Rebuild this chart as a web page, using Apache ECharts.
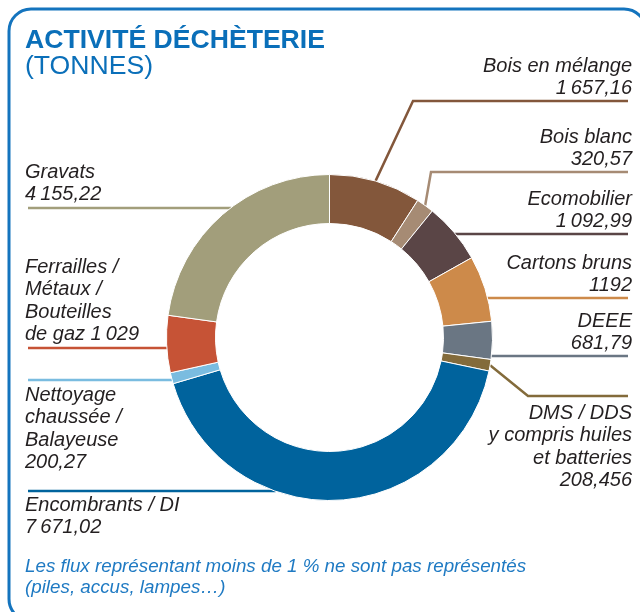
<!DOCTYPE html>
<html>
<head>
<meta charset="utf-8">
<script src="https://cdn.jsdelivr.net/npm/echarts@6/dist/echarts.min.js"></script>
<style>html,body{margin:0;padding:0;background:#fff;overflow:hidden;}#c{width:640px;height:612px;}</style>
</head>
<body>
<div id="c"></div>
<script>
// ---- data ----
var categories = ['Bois en mélange', 'Bois blanc', 'Ecomobilier', 'Cartons bruns', 'DEEE',
  'DMS / DDS y compris huiles et batteries', 'Encombrants / DI', 'Nettoyage chaussée / Balayeuse',
  'Ferrailles / Métaux / Bouteilles de gaz', 'Gravats'];
var labelNames = ['Bois en mélange', 'Bois blanc', 'Ecomobilier', 'Cartons bruns', 'DEEE',
  'DMS / DDS\ny compris huiles\net batteries', 'Encombrants / DI', 'Nettoyage\nchaussée /\nBalayeuse',
  'Ferrailles /\nMétaux /\nBouteilles\nde gaz', 'Gravats'];
var values = [1657.16, 320.57, 1092.99, 1192, 681.79, 208.456, 7671.02, 200.27, 1029, 4155.22];
var valueLabels = ['1\u202F657,16', '320,57', '1\u202F092,99', '1192', '681,79', '208,456',
  '7\u202F671,02', '200,27', '1\u202F029', '4\u202F155,22'];
var colors = ['#83573B', '#A68B74', '#5A4546', '#CD8A4A', '#6A7683', '#836B3B',
  '#00639D', '#7ABCE0', '#C65336', '#A29E7B'];

// ---- layout ----
var CX = 329.5, CY = 337.5, R_IN = 114, R_OUT = 163;
var LH = 22.5;
var labelPos = [
  {x: 632, y: 55,  align: 'right', elbow: [413, 101], endX: 628},
  {x: 632, y: 126, align: 'right', elbow: [431, 172], endX: 628},
  {x: 632, y: 188, align: 'right', lineY: 234, endX: 628},
  {x: 632, y: 252, align: 'right', lineY: 298, endX: 628},
  {x: 632, y: 310, align: 'right', lineY: 356, endX: 628},
  {x: 632, y: 402, align: 'right', elbow: [528, 396], endX: 628},
  {x: 25,  y: 494, align: 'left',  lineY: 491, endX: 28},
  {x: 25,  y: 384, align: 'left',  lineY: 380, endX: 28},
  {x: 25,  y: 256, align: 'left',  lineY: 348, endX: 28},
  {x: 25,  y: 161, align: 'left',  lineY: 208, endX: 28}
];

var data = categories.map(function (c, i) {
  return {name: c, value: values[i], itemStyle: {color: colors[i]}};
});

var chart = echarts.init(document.getElementById('c'), null, {renderer: 'canvas'});
chart.setOption({
  animation: false,
  graphic: [
    {type: 'rect', shape: {x: 9, y: 9, width: 637, height: 612, r: 22},
      style: {fill: 'none', stroke: '#1474BE', lineWidth: 3}, z: 0},
    {type: 'text', left: 25, top: 27, style: {text: 'ACTIVITÉ DÉCHÈTERIE',
      font: 'bold 26.6px "Liberation Sans", Arial, sans-serif', fill: '#0A6FB9'}},
    {type: 'text', left: 25, top: 53, style: {text: '(TONNES)',
      font: '26.6px "Liberation Sans", Arial, sans-serif', fill: '#0A6FB9'}},
    {type: 'text', left: 25, top: 556, style: {
      text: 'Les flux représentant moins de 1 % ne sont pas représentés\n(piles, accus, lampes…)',
      font: 'italic 18.8px "Liberation Sans", Arial, sans-serif', fill: '#1F7AC3', lineHeight: 21}}
  ],
  series: [{
    type: 'pie',
    center: [CX, CY],
    radius: [R_IN, R_OUT],
    startAngle: 90,
    clockwise: true,
    avoidLabelOverlap: false,
    itemStyle: {borderColor: '#ffffff', borderWidth: 1},
    label: {
      show: true,
      formatter: function (p) {
        var i = p.dataIndex;
        return labelNames[i] + (i === 8 ? ' ' : '\n') + valueLabels[i];
      },
      fontFamily: '"Liberation Sans", Arial, sans-serif',
      fontStyle: 'italic',
      fontSize: 20,
      lineHeight: LH,
      color: '#231F20'
    },
    labelLine: {show: true, length: 10, length2: 10, smooth: false, lineStyle: {width: 2.5}},
    labelLayout: function (params) {
      var i = params.dataIndex;
      var p = labelPos[i];
      var pts;
      if (p.elbow) {
        var s = params.labelLinePoints ? params.labelLinePoints[0] : p.elbow;
        pts = [s, p.elbow, [p.endX, p.elbow[1]]];
      } else {
        var dy = p.lineY - CY;
        var dx = Math.sqrt(R_OUT * R_OUT - dy * dy) - 1;
        var sx = p.align === 'right' ? CX + dx : CX - dx;
        pts = [[sx, p.lineY], [sx, p.lineY], [p.endX, p.lineY]];
      }
      return {x: p.x, y: p.y, align: p.align, verticalAlign: 'top', labelLinePoints: pts};
    },
    data: data
  }]
});
</script>
</body>
</html>
